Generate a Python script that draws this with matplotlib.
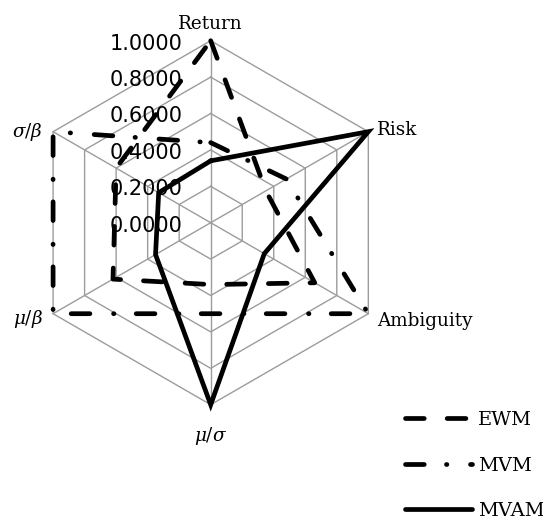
import numpy as np
import matplotlib
matplotlib.use('Agg')
import matplotlib.pyplot as plt

# ---- data ----
categories = ['Return', 'Risk', 'Ambiguity', r'$\mu/\sigma$', r'$\mu/\beta$', r'$\sigma/\beta$']
ewm = [1.00, 0.35, 0.66, 0.34, 0.62, 0.60]
mvm = [0.44, 0.48, 1.00, 0.50, 1.00, 1.00]
mvam = [0.34, 1.00, 0.34, 1.00, 0.35, 0.33]
series_names = ['EWM', 'MVM', 'MVAM']
tick_values = [0.0, 0.2, 0.4, 0.6, 0.8, 1.0]
tick_labels = ['0.0000', '0.2000', '0.4000', '0.6000', '0.8000', '1.0000']

plt.rcParams['lines.scale_dashes'] = False
plt.rcParams['mathtext.fontset'] = 'dejavuserif'

W_PX, H_PX = 543, 522
fig = plt.figure(figsize=(W_PX / 100, H_PX / 100), dpi=100)

cx, cy, R = 210.7, 222.7, 182.0   # centre (px from top-left) and radius
ax = fig.add_axes([(cx - R) / W_PX, (H_PX - cy - R) / H_PX, 2 * R / W_PX, 2 * R / H_PX],
                  projection='polar')
ax.set_theta_zero_location('N')
ax.set_theta_direction(-1)
ax.set_ylim(0, 1)
ax.grid(False)
ax.spines['polar'].set_visible(False)
ax.set_xticks([])
ax.set_yticks([])
ax.patch.set_visible(False)

n = len(categories)
angles = np.arange(n) * 2 * np.pi / n
closed = np.append(angles, angles[0])

grid_col = '#9c9c9c'
for r in tick_values[1:]:
    ax.plot(closed, [r] * (n + 1), color=grid_col, lw=1.0, clip_on=False, zorder=1)
for a in angles:
    ax.plot([a, a], [0, 1], color=grid_col, lw=1.0, clip_on=False, zorder=1)

lw = 3.4
styles = [
    dict(dashes=(13.5, 16.5), dash_capstyle='round'),
    dict(dashes=(13.5, 16.0, 0.3, 17.0), dash_capstyle='round'),
    dict(linestyle='-', solid_capstyle='round', solid_joinstyle='miter'),
]
handles = []
for name, vals, st in zip(series_names, [ewm, mvm, mvam], styles):
    v = list(vals) + [vals[0]]
    ln, = ax.plot(closed, v, color='black', lw=lw, clip_on=False, zorder=3,
                  label=name, **st)
    handles.append(ln)

# radial tick labels
for val, lab in zip(tick_values, tick_labels):
    ax.annotate(lab, xy=(0, val), xytext=(-28, -3), textcoords='offset pixels',
                ha='right', va='center', fontsize=15, family='DejaVu Sans',
                color='black', zorder=2)

# category labels
label_off = [
    ((0, 8), 'center', 'bottom'),
    ((9, 2), 'left', 'center'),
    ((9, -7), 'left', 'center'),
    ((0, -31), 'center', 'center'),
    ((-10, -5), 'right', 'center'),
    ((-10, 0), 'right', 'center'),
]
for a, lab, (off, ha, va) in zip(angles, categories, label_off):
    ax.annotate(lab, xy=(a, 1.0), xytext=off, textcoords='offset pixels',
                ha=ha, va=va, fontsize=13.2, family='DejaVu Serif', color='black',
                annotation_clip=False)

fig.legend(handles=handles, labels=series_names, loc='upper left',
           bbox_to_anchor=(405 / W_PX, 1 - 411 / H_PX), bbox_transform=fig.transFigure,
           frameon=False, handlelength=3.45, handletextpad=0.3, labelspacing=1.42,
           borderpad=0, borderaxespad=0,
           prop={'family': 'DejaVu Serif', 'size': 14})

fig.savefig('out.png', dpi=100)
